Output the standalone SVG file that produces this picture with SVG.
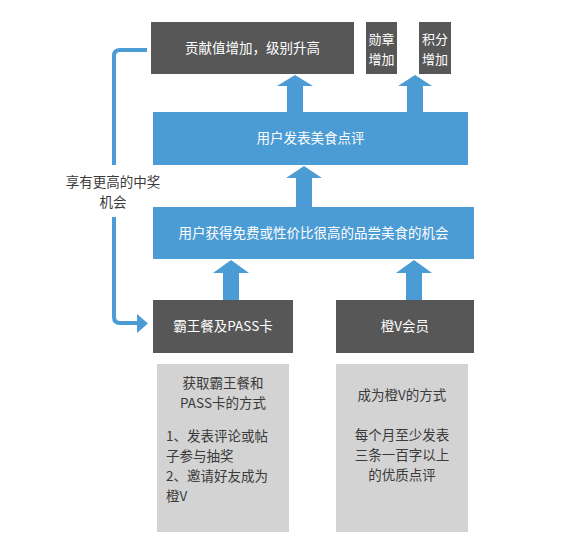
<svg xmlns="http://www.w3.org/2000/svg" width="565" height="546" viewBox="0 0 565 546">
<style>
.dark{fill:#575757}
.blue{fill:#4b9bd4}
.light{fill:#d3d3d3}
.arrow{fill:#4b9bd4}
text{font-family:"Noto Sans CJK SC","Liberation Sans",sans-serif;font-size:13.5px}
.w{fill:#ffffff;text-anchor:middle}
.s{font-size:13px}
.k{fill:#3a3a3a}
.kc{fill:#3a3a3a;text-anchor:middle}
</style>
<rect width="565" height="546" fill="#ffffff"/>
<g id="n-contrib"><rect class="dark" x="151" y="22" width="203" height="52"/><text class="w" x="252.5" y="53">贡献值增加，级别升高</text></g>
<g id="n-medal"><rect class="dark" x="366" y="22" width="31" height="52"/><text class="w s" x="381.5" y="44">勋章</text><text class="w s" x="381.5" y="64">增加</text></g>
<g id="n-points"><rect class="dark" x="419" y="22" width="32" height="52"/><text class="w s" x="435" y="44">积分</text><text class="w s" x="435" y="64">增加</text></g>
<g id="n-review"><rect class="blue" x="153" y="112" width="315" height="53"/><text class="w" x="310.5" y="143">用户发表美食点评</text></g>
<g id="n-chance"><rect class="blue" x="153" y="207" width="321" height="52"/><text class="w" x="313.5" y="238">用户获得免费或性价比很高的品尝美食的机会</text></g>
<g id="n-pass"><rect class="dark" x="153" y="300" width="140" height="53"/><text class="w" x="223" y="331">霸王餐及PASS卡</text></g>
<g id="n-orangev"><rect class="dark" x="336" y="300" width="138" height="53"/><text class="w" x="405" y="331">橙V会员</text></g>
<g id="n-pass-how"><rect class="light" x="157" y="364" width="132" height="168"/>
<text class="kc" x="223" y="388">获取霸王餐和</text>
<text class="kc" x="223" y="408">PASS卡的方式</text>
<text class="k" x="166" y="441">1、发表评论或帖</text>
<text class="k" x="166" y="461">子参与抽奖</text>
<text class="k" x="166" y="481">2、邀请好友成为</text>
<text class="k" x="166" y="501">橙V</text>
</g>
<g id="n-orangev-how"><rect class="light" x="336" y="364" width="132" height="168"/>
<text class="kc" x="402" y="400">成为橙V的方式</text>
<text class="kc" x="402" y="440">每个月至少发表</text>
<text class="kc" x="402" y="460">三条一百字以上</text>
<text class="kc" x="402" y="480">的优质点评</text>
</g>
<g id="connectors">
<polygon class="arrow" points="295,75 313,86 303,86 303,112 287,112 287,86 277,86"/>
<polygon class="arrow" points="415,75 432,86 423,86 423,112 407,112 407,86 398,86"/>
<polygon class="arrow" points="304,166 322,178 312,178 312,207 296,207 296,178 286,178"/>
<polygon class="arrow" points="231,260 249,273 239,273 239,300 223,300 223,273 213,273"/>
<polygon class="arrow" points="414,260 432,273 422,273 422,300 406,300 406,273 396,273"/>
<path d="M147,50 H120 Q114,50 114,56 V165" fill="none" stroke="#4b9bd4" stroke-width="4"/>
<path d="M114,217 V317 Q114,323 120,323 H139" fill="none" stroke="#4b9bd4" stroke-width="4"/>
<polygon class="arrow" points="137,314 148,323.5 137,333"/>
<text class="kc" x="113" y="187">享有更高的中奖</text>
<text class="kc" x="113" y="207">机会</text>
</g>
</svg>
